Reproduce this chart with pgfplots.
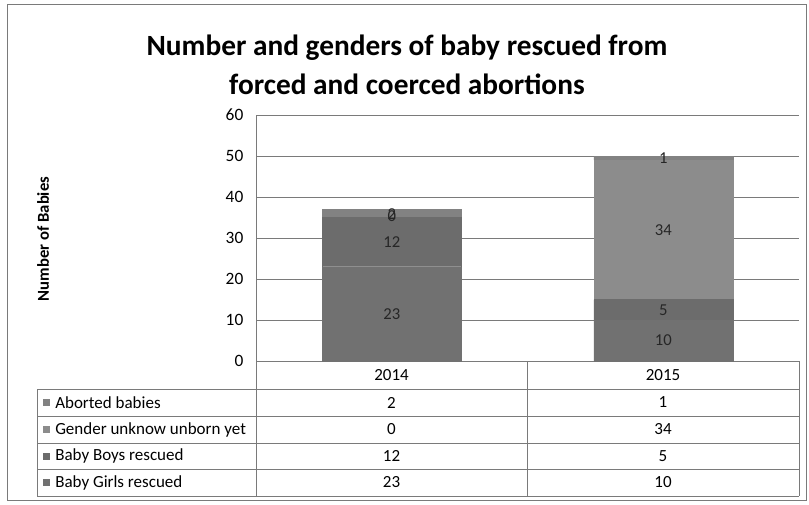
\documentclass[border=0pt]{standalone}
\usepackage{fontspec}
\setmainfont{Carlito}
\usepackage{pgfplots}
\pgfplotsset{compat=1.18}

\definecolor{girls}{HTML}{717171}
\definecolor{boys}{HTML}{6C6C6C}
\definecolor{unknown}{HTML}{8C8C8C}
\definecolor{aborted}{HTML}{828282}
\definecolor{rule}{HTML}{7A7A7A}

\begin{document}
\begin{tikzpicture}
\path[use as bounding box] (0,0) rectangle (606.75pt,378pt);

% bars
\begin{axis}[
    at={(192pt,107.25pt)}, anchor=south west,
    scale only axis, width=407.25pt, height=184.5pt,
    ybar stacked, bar width=104.25pt,
    xmin=-0.5, xmax=1.5, ymin=0, ymax=60,
    ytick={0,10,...,60}, xtick=\empty,
    axis x line=none, axis y line*=left,
    axis line style={-, rule, line width=0.6pt},
    ymajorgrids, grid style={rule, line width=0.6pt},
    major tick length=0pt,
    /pgf/number format/assume math mode=true,
    yticklabel style={font=\fontsize{13}{15}\selectfont, xshift=-6pt},
]
\addplot[fill=girls, draw=girls, line width=0.3pt] coordinates {(0,23) (1,10)};
\addplot[fill=boys, draw=boys, line width=0.3pt] coordinates {(0,12) (1,5)};
\addplot[fill=unknown, draw=unknown, line width=0.3pt] coordinates {(0,0) (1,34)};
\addplot[fill=aborted, draw=aborted, line width=0.3pt] coordinates {(0,2) (1,1)};
\end{axis}

% segment labels
\begin{axis}[
    at={(192pt,107.25pt)}, anchor=south west,
    scale only axis, width=407.25pt, height=184.5pt,
    xmin=-0.5, xmax=1.5, ymin=0, ymax=60, hide axis,
]
\addplot[draw=none, mark=none, nodes near coords, point meta=explicit symbolic,
    every node near coord/.style={anchor=center, font=\fontsize{12.5}{14}\selectfont, text=black!85}]
    coordinates {(0,11.5)[23] (0,29)[12] (0,35.3)[0] (0,35.8)[2]
                 (1,5)[10] (1,12.5)[5] (1,32)[34] (1,49.5)[1]};
\end{axis}

\begin{scope}[x=0.75pt, y=-0.75pt, yshift=378pt]
  % outer frame
  \draw[rule, line width=0.6pt] (7,4) rectangle (806,500);
  % title
  \node[font=\fontsize{22}{26}\selectfont\bfseries, align=center] at (407,65)
    {Number and genders of baby rescued from\\[3pt]forced and coerced abortions};
  % y label
  \node[font=\fontsize{12.5}{14}\selectfont\bfseries, rotate=90] at (43,239) {Number of Babies};
  % data table
  \draw[rule, line width=0.6pt] (256,361) -- (256,496);
  \draw[rule, line width=0.6pt] (527,361) -- (527,496);
  \draw[rule, line width=0.6pt] (799,361) -- (799,496);
  \draw[rule, line width=0.6pt] (37,389) -- (37,496);
  \foreach \yy in {389,416,443,469,496} \draw[rule, line width=0.6pt] (37,\yy) -- (799,\yy);
  \begin{scope}[every node/.style={font=\fontsize{12.75}{15}\selectfont}]
    \node at (391.5,375) {2014};
    \node at (663,375) {2015};
    \foreach \yy/\nm/\cc/\a/\b in {402.5/Aborted babies/aborted/2/1,
                                   429.5/Gender unknow unborn yet/unknown/0/34,
                                   456/Baby Boys rescued/boys/12/5,
                                   482.5/Baby Girls rescued/girls/23/10} {
      \fill[\cc] (43,\yy-3.5) rectangle (50,\yy+3.5);
      \node[anchor=west, inner sep=0pt] at (55,\yy) {\nm};
      \node at (391.5,\yy) {\a};
      \node at (663,\yy) {\b};
    }
  \end{scope}
\end{scope}
\end{tikzpicture}
\end{document}
